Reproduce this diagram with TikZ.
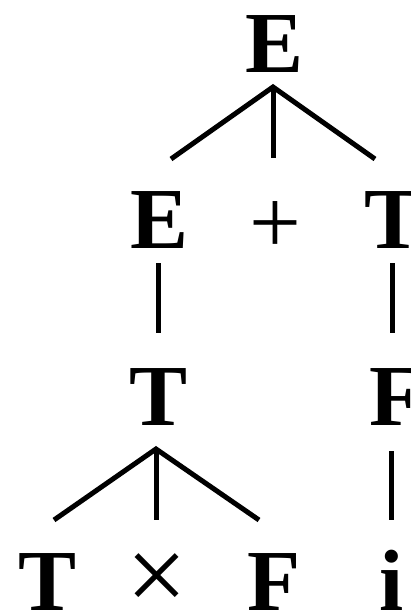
\documentclass[tikz,border=0pt]{standalone}
\usepackage{fontspec}
\setmainfont{Liberation Serif}
\begin{document}
\begin{tikzpicture}[x=1pt,y=-1pt,
  sym/.style={anchor=base,inner sep=0pt,font=\fontsize{87}{87}\selectfont\bfseries},
  op/.style={anchor=center,inner sep=0pt},
  edge/.style={line width=5pt}]
\useasboundingbox (0,0) rectangle (411,613);
% row 1
\node[sym] (E1) at (275,72) {E};
% row 2
\node[sym] (E2) at (160,248) {E};
\node[op,font=\fontsize{92}{92}\selectfont] (P) at (275,228) {+};
\node[sym] (T2) at (394,248) {T};
% row 3
\node[sym] (T3) at (159,425) {T};
\node[sym] (F3) at (396,425) {F};
% row 4
\node[sym] (T4) at (48,610) {T};
\node[op,font=\fontsize{108}{108}\selectfont] (X) at (157,583) {×};
\node[sym] (F4) at (274,610) {F};
\node[sym] (I4) at (392,610) {i};
% connector points
\coordinate (a1) at (273,87);
\coordinate (e2t) at (171,159);
\coordinate (pt) at (273,158);
\coordinate (t2t) at (375,159);
\coordinate (e2b) at (158,263);
\coordinate (t3t) at (158,333);
\coordinate (t2b) at (392,263);
\coordinate (f3t) at (392,333);
\coordinate (a3) at (156,449);
\coordinate (t4t) at (54,520);
\coordinate (xt) at (156,520);
\coordinate (f4t) at (259,520);
\coordinate (f3b) at (391,451);
\coordinate (i4t) at (391,520);
\draw[edge] (e2t) -- (a1) -- (t2t);
\draw[edge] (a1) -- (pt);
\draw[edge] (e2b) -- (t3t);
\draw[edge] (t2b) -- (f3t);
\draw[edge] (t4t) -- (a3) -- (f4t);
\draw[edge] (a3) -- (xt);
\draw[edge] (f3b) -- (i4t);
\end{tikzpicture}
\end{document}
